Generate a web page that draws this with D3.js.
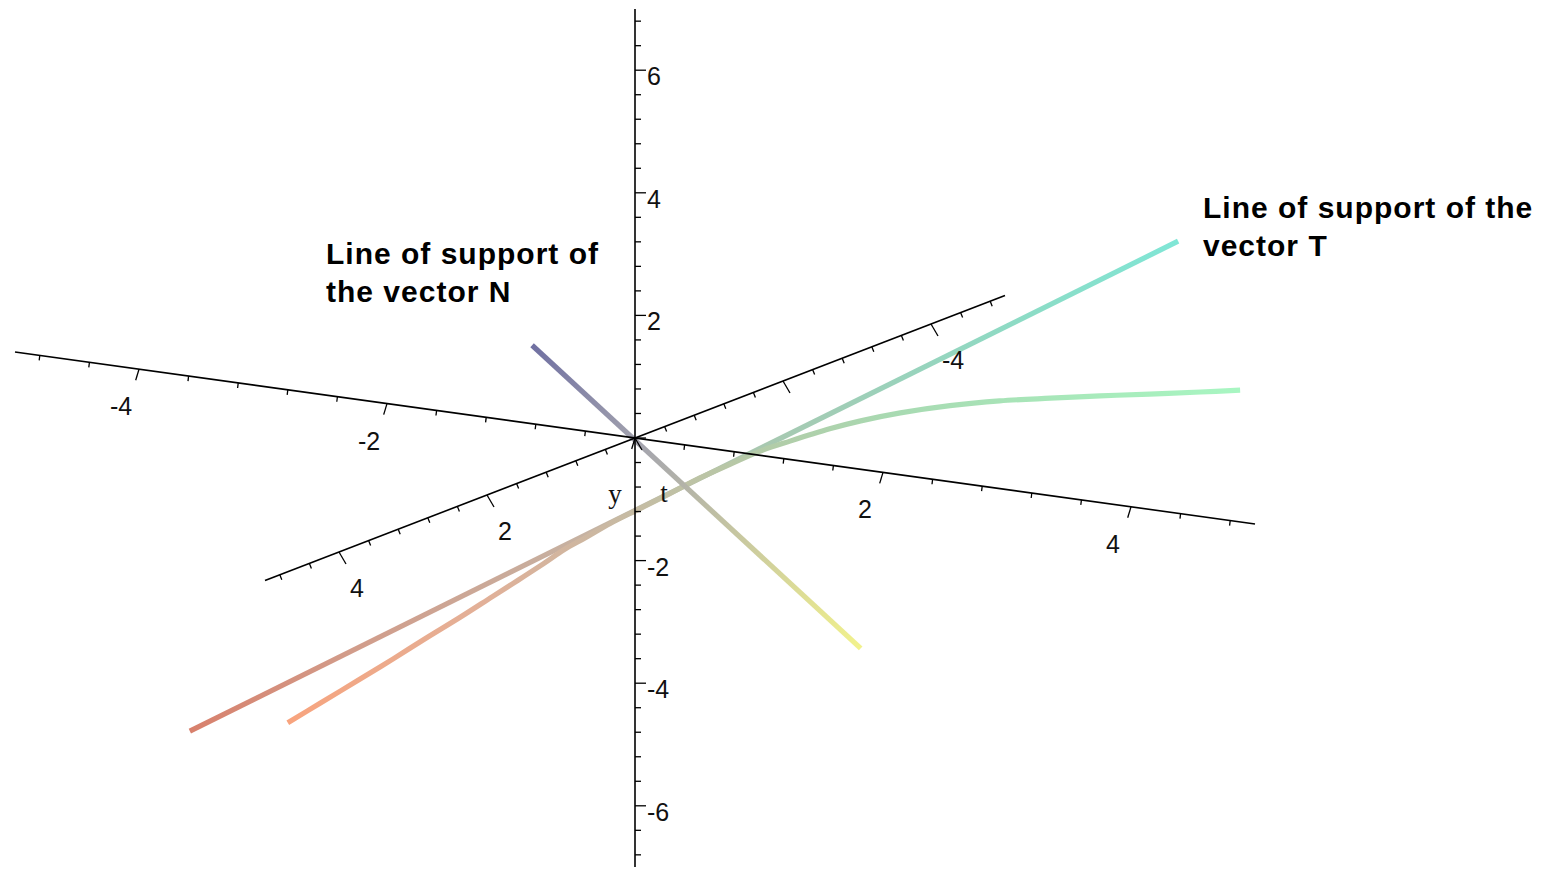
<!DOCTYPE html>
<html>
<head>
<meta charset="utf-8">
<script src="https://cdn.jsdelivr.net/npm/d3@7"></script>
<style>
  body { margin: 0; background: #fff; }
  svg { display: block; }
  .tick-label { font-family: "Liberation Sans", Arial, sans-serif; font-size: 25px; fill: #111; }
  .axis-name { font-family: "Liberation Serif", "Times New Roman", serif; font-size: 27px; fill: #111; }
  .note { font-family: "Liberation Sans", Arial, sans-serif; font-size: 30px; font-weight: bold; letter-spacing: 1px; fill: #000; }
</style>
</head>
<body>
<svg id="spacecurve"></svg>
<script>
// axis ranges (x: horizontal, y: depth, z: vertical)
const xRange = [-5, 5];
const yRange = [-5, 5];
const zRange = [-7, 7];
const tickStep = 0.4;
const xTickLabels = [-4, -2, 2, 4];
const yTickLabels = [4, 2, -4];
const zTickLabels = [6, 4, 2, -2, -4, -6];
const axisNames = ["y", "t"];

// points as [x, y, z]
const normalLine = [[-0.83, 0, 1.28], [1.82, 0, -2.92]];
const tangentLine = [[-3.59, 0, -5.79], [4.38, 0, 4.44]];
const curvePoints = [
  [-2.80, 0, -5.43], [-2.54, 0, -5.04], [-2.22, 0, -4.56], [-1.95, 0, -4.15],
  [-1.68, 0, -3.73], [-1.41, 0, -3.32], [-1.15, 0, -2.91], [-0.94, 0, -2.58],
  [-0.74, 0, -2.26], [-0.57, 0, -1.98], [-0.40, 0, -1.74], [-0.20, 0, -1.45],
  [0.04, 0, -1.14], [0.28, 0, -0.83], [0.52, 0, -0.51], [0.77, 0, -0.21],
  [1.01, 0, 0.07], [1.25, 0, 0.30], [1.57, 0, 0.59], [1.82, 0, 0.79],
  [2.14, 0, 1.01], [2.54, 0, 1.24], [2.94, 0, 1.43], [3.35, 0, 1.59],
  [3.75, 0, 1.74], [4.15, 0, 1.88], [4.56, 0, 2.03], [4.88, 0, 2.15]
];

// colour stops [offset, colour]
const normalColors = [[0, "#7070a2"], [0.33, "#a4a4ae"], [0.6, "#c4c4a2"], [1, "#f2f28c"]];
const tangentColors = [[0, "#d8806c"], [0.16, "#d29c8a"], [0.4, "#c6b2a2"], [0.58, "#a8c8b0"], [0.85, "#8cdcc6"], [1, "#80e6d6"]];
const curveColors = [[0, "#f8a47e"], [0.22, "#e2b098"], [0.36, "#cab8a2"], [0.54, "#b2cca8"], [0.67, "#a8dab2"], [1, "#a8f6c2"]];

class SpaceCurvePlot {
  constructor(selector) {
    this.width = 1543;
    this.height = 874;
    this.svg = d3.select(selector)
      .attr("width", this.width)
      .attr("height", this.height);
  }

  initialize() {
    // each axis maps onto its own screen direction, all meeting at (635, 438)
    this.xScaleX = d3.scaleLinear().domain(xRange).range([15, 1255]);
    this.xScaleY = d3.scaleLinear().domain(xRange).range([352, 524]);
    this.yScaleX = d3.scaleLinear().domain(yRange).range([1005, 265]);
    this.yScaleY = d3.scaleLinear().domain(yRange).range([295.5, 580.5]);
    this.zScaleY = d3.scaleLinear().domain(zRange).range([867.1, 8.9]);
    this.origin = [this.xScaleX(0), this.xScaleY(0)];

    this.defs = this.svg.append("defs");
    this.curveLayer = this.svg.append("g");
    this.axisLayer = this.svg.append("g");
    this.textLayer = this.svg.append("g");
  }

  project(p) {
    const [ox, oy] = this.origin;
    return [
      this.xScaleX(p[0]) + this.yScaleX(p[1]) - ox,
      this.xScaleY(p[0]) + this.yScaleY(p[1]) + this.zScaleY(p[2]) - 2 * oy
    ];
  }

  isMajor(v) {
    return Math.abs(v / 2 - Math.round(v / 2)) < 1e-6;
  }

  drawAxis(name, range, toPoint, minorVec, majorVec, labels, labelPos) {
    const g = this.axisLayer.append("g").attr("class", "axis-" + name);
    const a = this.project(toPoint(range[0]));
    const b = this.project(toPoint(range[1]));
    g.append("line")
      .attr("x1", a[0]).attr("y1", a[1])
      .attr("x2", b[0]).attr("y2", b[1])
      .attr("stroke", "#000")
      .attr("stroke-width", 1.6);

    const n = Math.floor(range[1] / tickStep + 1e-6);
    const ticks = d3.range(-n, n + 1).map((k) => +(k * tickStep).toFixed(2));
    g.selectAll("line.tick")
      .data(ticks)
      .join("line")
      .attr("class", "tick")
      .each((d, i, nodes) => {
        const p = this.project(toPoint(d));
        const v = this.isMajor(d) ? majorVec : minorVec;
        d3.select(nodes[i])
          .attr("x1", p[0]).attr("y1", p[1])
          .attr("x2", p[0] + v[0]).attr("y2", p[1] + v[1]);
      })
      .attr("stroke", "#000")
      .attr("stroke-width", 1.3);

    g.selectAll("text")
      .data(labels)
      .join("text")
      .attr("class", "tick-label")
      .each((d, i, nodes) => {
        const p = this.project(toPoint(d));
        labelPos(d3.select(nodes[i]), p);
      })
      .text((d) => d);
  }

  drawCurve(id, points, colors, smooth) {
    const p0 = this.project(points[0]);
    const p1 = this.project(points[points.length - 1]);
    const grad = this.defs.append("linearGradient")
      .attr("id", id)
      .attr("gradientUnits", "userSpaceOnUse")
      .attr("x1", p0[0]).attr("y1", p0[1])
      .attr("x2", p1[0]).attr("y2", p1[1]);
    grad.selectAll("stop")
      .data(colors)
      .join("stop")
      .attr("offset", (d) => d[0])
      .attr("stop-color", (d) => d[1]);

    const line = d3.line()
      .x((d) => this.project(d)[0])
      .y((d) => this.project(d)[1])
      .curve(smooth ? d3.curveCatmullRom : d3.curveLinear);

    this.curveLayer.append("path")
      .datum(points)
      .attr("d", line)
      .attr("fill", "none")
      .attr("stroke", `url(#${id})`)
      .attr("stroke-width", 5.2)
      .attr("stroke-linejoin", "round");
  }

  render() {
    this.drawCurve("gradTangent", tangentLine, tangentColors, false);
    this.drawCurve("gradCurve", curvePoints, curveColors, true);
    this.drawCurve("gradNormal", normalLine, normalColors, false);

    // horizontal axis
    this.drawAxis("x", xRange, (v) => [v, 0, 0], [-0.6, 5], [-3.3, 11], xTickLabels,
      (t, p) => t.attr("x", p[0] - 18).attr("y", p[1] + 37)
        .attr("text-anchor", "middle").attr("dominant-baseline", "central"));
    // depth axis
    this.drawAxis("y", yRange, (v) => [0, v, 0], [2, 5], [7, 12], yTickLabels,
      (t, p) => t.attr("x", p[0] + 11).attr("y", p[1] + 36)
        .attr("text-anchor", "start").attr("dominant-baseline", "central"));
    // vertical axis
    this.drawAxis("z", zRange, (v) => [0, 0, v], [6, 0], [11, 0], zTickLabels,
      (t, p) => t.attr("x", p[0] + 12).attr("y", p[1] + 6)
        .attr("text-anchor", "start").attr("dominant-baseline", "central"));

    this.textLayer.append("text")
      .attr("class", "axis-name")
      .attr("x", 615).attr("y", 503)
      .attr("text-anchor", "middle")
      .text(axisNames[0]);
    this.textLayer.append("text")
      .attr("class", "axis-name")
      .attr("x", 664).attr("y", 502)
      .attr("text-anchor", "middle")
      .text(axisNames[1]);

    const notes = [
      { x: 326, y: 264, lines: ["Line of support of", "the vector N"] },
      { x: 1203, y: 218, lines: ["Line of support of the", "vector T"] }
    ];
    notes.forEach((n) => {
      this.textLayer.append("text")
        .attr("class", "note")
        .selectAll("tspan")
        .data(n.lines)
        .join("tspan")
        .attr("x", n.x)
        .attr("y", (d, i) => n.y + i * 38)
        .text((d) => d);
    });
  }
}

const plot = new SpaceCurvePlot("#spacecurve");
plot.initialize();
plot.render();
</script>
</body>
</html>
